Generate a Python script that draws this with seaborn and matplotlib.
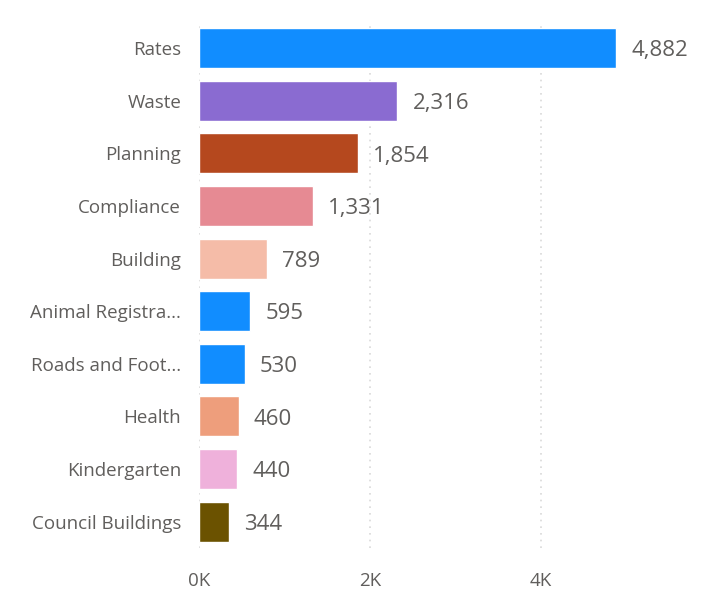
import matplotlib
matplotlib.use("Agg")
import matplotlib.pyplot as plt
from matplotlib.ticker import FuncFormatter
import seaborn as sns
import pandas as pd

# Request counts by service category
categories = [
    "Rates", "Waste", "Planning", "Compliance", "Building",
    "Animal Registra...", "Roads and Foot...", "Health",
    "Kindergarten", "Council Buildings",
]
counts = [4882, 2316, 1854, 1331, 789, 595, 530, 460, 440, 344]
bar_colors = [
    "#118DFF", "#8A6BD1", "#B5481E", "#E68A93", "#F5BCA8",
    "#118DFF", "#118DFF", "#EE9E7C", "#EFB1DB", "#6B5200",
]
x_ticks = [0, 2000, 4000]

df = pd.DataFrame({"category": categories, "count": counts})

sns.set_theme(style="white")
plt.rcParams["font.family"] = ["Open Sans", "DejaVu Sans"]

fig = plt.figure(figsize=(7.09, 6.01), dpi=100)
ax = fig.add_axes([0.281, 0.088, 0.719, 0.876])

sns.barplot(
    data=df, x="count", y="category", hue="category",
    palette=bar_colors, order=categories, hue_order=categories,
    width=0.76, legend=False, ax=ax, saturation=1,
)

ax.set_xlim(0, 5965)
ax.set_ylim(len(categories) - 0.5, -0.5)
ax.set_xticks(x_ticks)
ax.xaxis.set_major_formatter(FuncFormatter(lambda v, p: f"{int(v / 1000)}K"))
ax.grid(axis="x", color="#d9d9d9", linestyle=(0, (1, 3)), linewidth=1.2)
ax.set_axisbelow(True)
for s in ax.spines.values():
    s.set_visible(False)
ax.set_xlabel("")
ax.set_ylabel("")
ax.tick_params(axis="x", colors="#605E5C", labelsize=13.5, length=0, pad=17)
ax.tick_params(axis="y", colors="#605E5C", labelsize=13.5, length=0, pad=13)

for i, v in enumerate(counts):
    ax.annotate(f"{v:,}", xy=(v, i), xytext=(11, -2), textcoords="offset points",
                ha="left", va="center", fontsize=16, color="#605E5C")

fig.savefig("out.png", dpi=100)
